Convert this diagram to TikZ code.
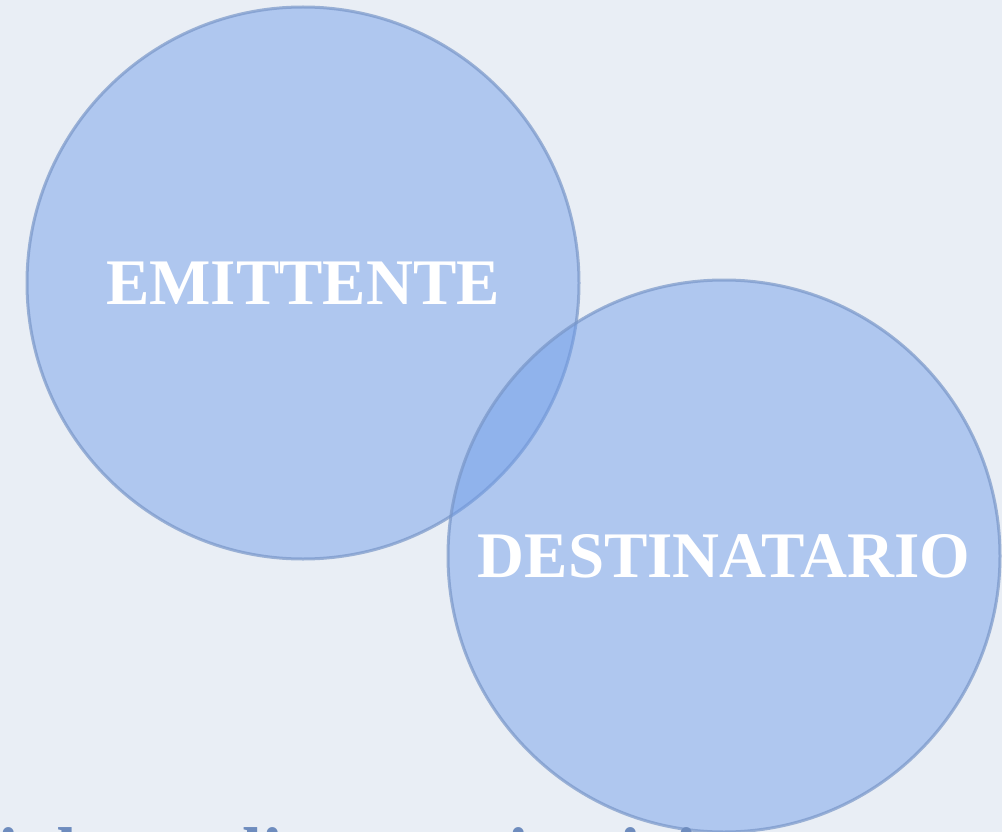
\documentclass[tikz,border=0pt]{standalone}
\usepackage{fontspec}
\setmainfont{Liberation Serif}
\usepackage{xcolor}
\definecolor{paper}{RGB}{233,238,245}
\definecolor{discfill}{RGB}{111,157,234}
\definecolor{discline}{RGB}{120,150,200}
\definecolor{titleblue}{RGB}{110,140,190}

\begin{document}
\begin{tikzpicture}[x=1pt,y=-1pt,
        disc/.style={circle,draw=discline,draw opacity=.7,line width=3pt,
            fill=discfill,fill opacity=.47,text opacity=1,text=white,
            minimum size=552pt,inner sep=0pt,outer sep=0pt,
            font=\fontsize{65}{65}\selectfont\bfseries}]
    \fill[paper] (0,0) rectangle (1002,832);
    \useasboundingbox (0,0) rectangle (1002,832);
    \clip (0,0) rectangle (1002,832);
    \node[disc] (emit) at (303,283) {EMITTENTE};
    \node[disc] (dest) at (724,556) {DESTINATARIO};
    \node[anchor=base west,text=titleblue,inner sep=0pt,font=\fontsize{72}{72}\selectfont\bfseries] (title) at (-2,877) {i due poli comunicativi};
\end{tikzpicture}
\end{document}
